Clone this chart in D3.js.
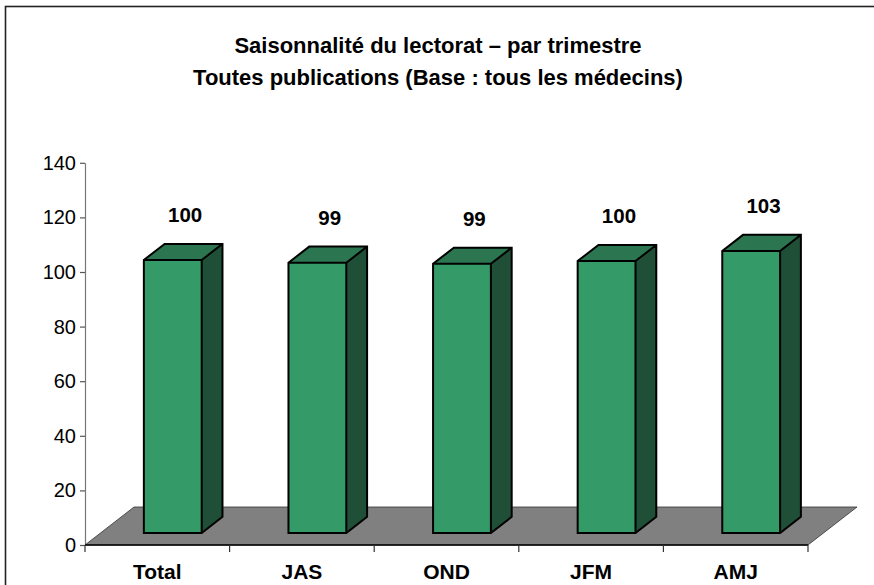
<!DOCTYPE html>
<html>
<head>
<meta charset="utf-8">
<script src="https://cdn.jsdelivr.net/npm/d3@7"></script>
<style>
  body { margin: 0; background: #fff; }
  svg { display: block; font-family: 'Liberation Sans', Arial, sans-serif; }
</style>
</head>
<body>
<svg id="chart" width="874" height="585"></svg>
<script>
// data
const categories = ['Total', 'JAS', 'OND', 'JFM', 'AMJ'];
const values = [100, 99.0, 98.6, 99.6, 103.3];
const yTicks = [0, 20, 40, 60, 80, 100, 120, 140];
const titleLines = ['Saisonnalité du lectorat – par trimestre', 'Toutes publications (Base : tous les médecins)'];

const svg = d3.select('#chart');
const W = 874, H = 585;

// frame of the chart area (right and bottom run off the picture)
svg.append('rect')
  .attr('x', 5.5).attr('y', 6.5)
  .attr('width', W + 10).attr('height', H + 10)
  .attr('fill', 'none').attr('stroke', '#222').attr('stroke-width', 1.6);

const title = svg.append('text')
  .attr('text-anchor', 'middle')
  .attr('font-weight', 'bold')
  .attr('font-size', 22)
  .attr('fill', '#000');
title.selectAll('tspan').data(titleLines).join('tspan')
  .attr('x', 438)
  .attr('y', (d, i) => 53 + i * 32)
  .text(d => d);

// plot geometry
const x = d3.scaleBand().domain(categories).range([85, 808]);
const y = d3.scaleLinear().domain([0, 140]).range([545, 162.8]);

// 3d depth of the floor, and where the bars sit within it
const depth = { dx: 49, dy: -38 };
const barFront = 0.316, barBack = 0.74;
const barW = x.bandwidth() * 0.40;

// floor
const x0 = x.range()[0], x1 = x.range()[1], yb = y(0);
svg.append('path')
  .attr('d', `M${x0},${yb}L${x0 + depth.dx},${yb + depth.dy}L${x1 + depth.dx},${yb + depth.dy}L${x1},${yb}Z`)
  .attr('fill', '#808080')
  .attr('stroke', '#333')
  .attr('stroke-width', 0.8);

// bars
const bars = svg.append('g').selectAll('g.bar')
  .data(categories.map((c, i) => ({ cat: c, value: values[i] })))
  .join('g').classed('bar', true);

const fdx = depth.dx * barFront, fdy = depth.dy * barFront;
const bdx = depth.dx * (barBack - barFront), bdy = depth.dy * (barBack - barFront);

function frontBox(d) {
  const cx = x(d.cat) + x.bandwidth() / 2 + fdx;
  return { l: cx - barW / 2, r: cx + barW / 2, b: y(0) + fdy, t: y(d.value) + fdy };
}

bars.append('path')
  .attr('d', d => {
    const f = frontBox(d);
    return `M${f.r},${f.b}L${f.r + bdx},${f.b + bdy}L${f.r + bdx},${f.t + bdy}L${f.r},${f.t}Z`;
  })
  .attr('fill', '#1f4f37');

bars.append('path')
  .attr('d', d => {
    const f = frontBox(d);
    return `M${f.l},${f.t}L${f.l + bdx},${f.t + bdy}L${f.r + bdx},${f.t + bdy}L${f.r},${f.t}Z`;
  })
  .attr('fill', '#2b7650');

bars.append('rect')
  .attr('x', d => frontBox(d).l)
  .attr('y', d => frontBox(d).t)
  .attr('width', barW)
  .attr('height', d => frontBox(d).b - frontBox(d).t)
  .attr('fill', '#349a68');

// outline of each box
bars.append('path')
  .attr('d', d => {
    const f = frontBox(d);
    return `M${f.l},${f.b}L${f.l},${f.t}L${f.l + bdx},${f.t + bdy}L${f.r + bdx},${f.t + bdy}L${f.r + bdx},${f.b + bdy}L${f.r},${f.b}Z` +
      `M${f.l},${f.t}L${f.r},${f.t}L${f.r},${f.b}M${f.r},${f.t}L${f.r + bdx},${f.t + bdy}`;
  })
  .attr('fill', 'none')
  .attr('stroke', '#000')
  .attr('stroke-width', 2)
  .attr('stroke-linejoin', 'miter');

// value labels
bars.append('text')
  .attr('x', d => frontBox(d).l + barW / 2 + bdx / 2 + 2)
  .attr('y', d => frontBox(d).t + bdy - 22)
  .attr('text-anchor', 'middle')
  .attr('font-weight', 'bold')
  .attr('font-size', 20.5)
  .text(d => Math.round(d.value));

// y axis
const yAxis = svg.append('g')
  .attr('transform', `translate(${x0},0)`)
  .call(d3.axisLeft(y).tickValues(yTicks).tickSize(5).tickSizeOuter(0).tickPadding(4));
yAxis.select('.domain').attr('stroke', '#777').attr('stroke-width', 1.2);
yAxis.selectAll('.tick line').attr('stroke', '#555').attr('stroke-width', 1.2);
yAxis.selectAll('.tick text')
  .attr('font-family', "'Liberation Sans', Arial, sans-serif")
  .attr('font-size', 20).attr('fill', '#000');

// x axis: front edge of the floor, separators between categories
const xAxis = svg.append('g').attr('transform', `translate(0,${yb})`);
xAxis.append('line')
  .attr('x1', x0).attr('x2', x1)
  .attr('stroke', '#000').attr('stroke-width', 1.6);
xAxis.selectAll('line.sep')
  .data(categories.map(c => x(c)).concat([x1]))
  .join('line').classed('sep', true)
  .attr('x1', d => d).attr('x2', d => d)
  .attr('y1', 0).attr('y2', 7)
  .attr('stroke', '#333').attr('stroke-width', 1.2);
xAxis.selectAll('text')
  .data(categories)
  .join('text')
  .attr('x', d => x(d) + x.bandwidth() / 2)
  .attr('y', 34)
  .attr('text-anchor', 'middle')
  .attr('font-weight', 'bold')
  .attr('font-size', 21)
  .text(d => d);
</script>
</body>
</html>
